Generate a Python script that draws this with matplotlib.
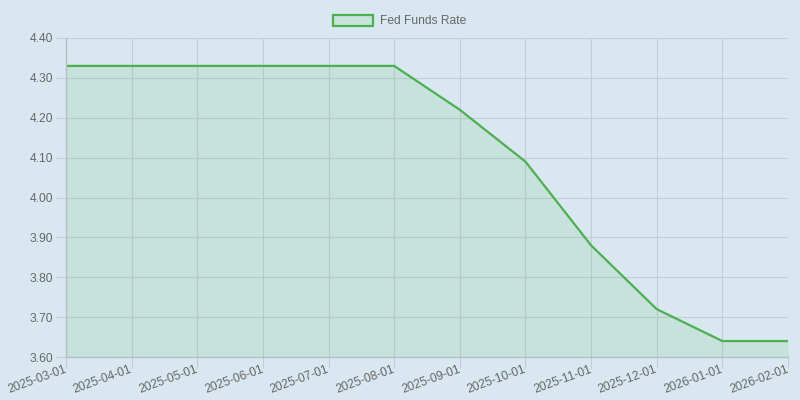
import matplotlib.pyplot as plt
from matplotlib.patches import Patch

plt.rcParams['font.family'] = ['Liberation Sans', 'DejaVu Sans']

# data
dates = ["2025-03-01", "2025-04-01", "2025-05-01", "2025-06-01", "2025-07-01",
         "2025-08-01", "2025-09-01", "2025-10-01", "2025-11-01", "2025-12-01",
         "2026-01-01", "2026-02-01"]
rates = [4.33, 4.33, 4.33, 4.33, 4.33, 4.33, 4.22, 4.09, 3.88, 3.72, 3.64, 3.64]
y_ticks = [3.60, 3.70, 3.80, 3.90, 4.00, 4.10, 4.20, 4.30, 4.40]

bg = '#d9e8f0'
green = '#4caf50'
grid_c = '#c3cfd5'
text_c = '#666666'
fs = 8.64  # 12px

fig = plt.figure(figsize=(8, 4), dpi=100, facecolor=bg)
ax = fig.add_axes([0.0825, 0.1075, 0.9025, 0.7975])
ax.set_facecolor(bg)

x = range(len(dates))
ax.fill_between(x, rates, 3.60, color=green, alpha=0.12, linewidth=0)
ax.plot(x, rates, color=green, linewidth=1.6)

ax.set_xlim(0, len(dates) - 1)
ax.set_ylim(3.60, 4.40)
ax.set_xticks(list(x))
ax.set_xticklabels(dates, rotation=20, ha='right', va='center', rotation_mode='anchor')
ax.set_yticks(y_ticks)
ax.set_yticklabels([f"{v:.2f}" for v in y_ticks])

ax.grid(True, color=grid_c, linewidth=0.8)
ax.set_axisbelow(True)
ax.tick_params(colors=grid_c, labelcolor=text_c, labelsize=fs, length=7, width=0.8, pad=2)
ax.tick_params(axis='x', pad=1, length=8)
for side in ['top', 'right']:
    ax.spines[side].set_visible(False)
for side in ['left', 'bottom']:
    ax.spines[side].set_color('#b5c0c6')
    ax.spines[side].set_linewidth(1)

handle = Patch(facecolor='#c8e2dc', edgecolor=green, linewidth=1.6)
fig.legend([handle], ['Fed Funds Rate'], loc='center', bbox_to_anchor=(0.5, 0.947),
           frameon=False, fontsize=fs, labelcolor=text_c, handlelength=3.3,
           handleheight=1.0, handletextpad=0.6)

fig.savefig('out.png', dpi=100, facecolor=bg)
